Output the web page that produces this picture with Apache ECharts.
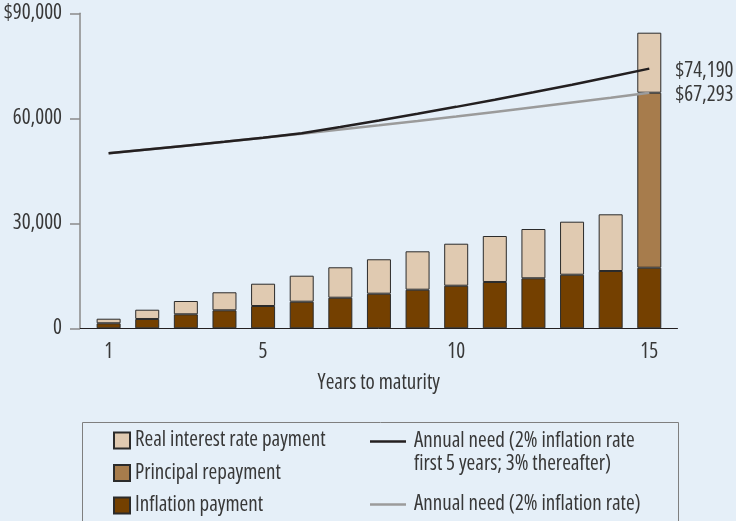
<!DOCTYPE html>
<html>
<head>
<meta charset="UTF-8">
<title>Ladder payments and annual need</title>
<script src="https://cdn.jsdelivr.net/npm/echarts@6/dist/echarts.min.js"></script>
</head>
<body style="margin:0; background:#e5eff8">
<div id="main" style="width:736px; height:521px"></div>
<script type="text/javascript">
var years = ['1', '2', '3', '4', '5', '6', '7', '8', '9', '10', '11', '12', '13', '14', '15'];
var inflationPay = [1430, 2660, 4000, 5140, 6370, 7600, 8740, 9890, 11030, 12170, 13230, 14290, 15310, 16370, 17310];
var principalPay = ['-', '-', '-', '-', '-', '-', '-', '-', '-', '-', '-', '-', '-', '-', 50000];
var realInterestPay = [1310, 2650, 3800, 5150, 6370, 7430, 8690, 9830, 10970, 12000, 13140, 14080, 15150, 16200, 17150];
var needFlat = [50000, 51070, 52170, 53290, 54430, 55600, 56790, 58010, 59250, 60520, 61820, 63150, 64500, 65880, 67293];
var needMixed = [50000, 51070, 52170, 53290, 54430, 55700, 57500, 59360, 61280, 63270, 65310, 67430, 69610, 71860, 74190];
var xLabelYears = ['1', '5', '10', '15'];

// condensed face of Open Sans stands in for the narrow Helvetica of the original
var FONT = "'Open Sans'";
var STRETCH = 'condensed';
var WEIGHT = 'normal';
var TEXT = '#383838';

function txt(size, extra) {
    return Object.assign({fontSize: size, fontFamily: FONT, fontStyle: STRETCH, fontWeight: WEIGHT, color: TEXT}, extra || {});
}

function endLabel() {
    return Object.assign(txt(21), {
        show: true, distance: 26, offset: [0, 2],
        formatter: function (p) { return '$' + p.value.toLocaleString('en-US'); }
    });
}

var myChart = echarts.init(document.getElementById('main'));

myChart.setOption({
    animation: false,
    backgroundColor: '#e5eff8',
    textStyle: {fontFamily: FONT, fontStyle: STRETCH, fontWeight: WEIGHT},
    grid: [
        {left: 89.3, right: 67.4, top: 13.3, bottom: 192.7, outerBoundsMode: 'none'},
        {left: 80, right: 58.5, top: 13.3, bottom: 192.7, outerBoundsMode: 'none'}
    ],
    xAxis: [
        {
            type: 'category',
            gridIndex: 0,
            data: years,
            axisLine: {show: false},
            axisTick: {show: false},
            axisLabel: Object.assign(txt(21), {
                margin: 13,
                interval: function (i, v) { return xLabelYears.indexOf(v) >= 0; }
            })
        },
        {
            // plain baseline spanning the full plot frame
            type: 'value',
            gridIndex: 1,
            min: 0,
            max: 1,
            name: 'Years to maturity',
            nameLocation: 'middle',
            nameGap: 44,
            nameTextStyle: txt(21),
            axisLine: {lineStyle: {color: '#231f20', width: 1}},
            axisTick: {show: false},
            axisLabel: {show: false},
            splitLine: {show: false}
        }
    ],
    yAxis: [
        {
            type: 'value',
            gridIndex: 0,
            offset: 9.3,
            min: 0,
            max: 90000,
            interval: 30000,
            axisLine: {show: true, lineStyle: {color: '#8a8a8a', width: 1.5}},
            axisTick: {show: true, length: 10, lineStyle: {color: '#8a8a8a', width: 1.5}},
            splitLine: {show: false},
            axisLabel: Object.assign(txt(21), {
                margin: 18,
                formatter: function (v) {
                    var s = v.toLocaleString('en-US');
                    return v === 90000 ? '$' + s : s;
                }
            })
        },
        {type: 'value', gridIndex: 1, min: 0, max: 1, show: false}
    ],
    legend: [
        {
            orient: 'vertical',
            left: 113,
            top: 430,
            padding: 0,
            itemWidth: 16,
            itemHeight: 16,
            itemGap: 11.5,
            icon: 'rect',
            textStyle: txt(21, {lineHeight: 20}),
            data: ['Real interest rate payment', 'Principal repayment', 'Inflation payment']
        },
        {
            orient: 'vertical',
            left: 370,
            top: 407,
            padding: 0,
            itemWidth: 36,
            itemHeight: 2.5,
            itemGap: 18,
            icon: 'rect',
            textStyle: txt(21, {lineHeight: 20, padding: [0, 0, 0, 3]}),
            // leading blank line keeps the icon level with the first text line
            formatter: function (name) { return name.indexOf('\n') >= 0 ? '\n' + name : name; },
            data: [
                {name: 'Annual need (2% inflation rate\nfirst 5 years; 3% thereafter)', textStyle: {lineHeight: 23}},
                'Annual need (2% inflation rate)'
            ]
        }
    ],
    graphic: [{
        type: 'rect',
        silent: true,
        shape: {x: 82.5, y: 422.5, width: 596, height: 120},
        style: {fill: null, stroke: '#7f7f7f', lineWidth: 1}
    }],
    series: [
        {
            name: 'Inflation payment',
            type: 'bar',
            stack: 'pay',
            barWidth: 24,
            itemStyle: {color: '#744000', borderColor: '#2b2b2b', borderWidth: 1},
            data: inflationPay
        },
        {
            name: 'Principal repayment',
            type: 'bar',
            stack: 'pay',
            barWidth: 24,
            itemStyle: {color: '#a77c4c', borderColor: '#2b2b2b', borderWidth: 1},
            data: principalPay
        },
        {
            name: 'Real interest rate payment',
            type: 'bar',
            stack: 'pay',
            barWidth: 24,
            itemStyle: {color: '#e0cab1', borderColor: '#2b2b2b', borderWidth: 1},
            data: realInterestPay
        },
        {
            name: 'Annual need (2% inflation rate)',
            type: 'line',
            symbol: 'none',
            lineStyle: {color: '#9b9b9b', width: 2.5},
            itemStyle: {color: '#9b9b9b'},
            endLabel: endLabel(),
            data: needFlat
        },
        {
            name: 'Annual need (2% inflation rate\nfirst 5 years; 3% thereafter)',
            type: 'line',
            symbol: 'none',
            lineStyle: {color: '#231f20', width: 2.5},
            itemStyle: {color: '#231f20'},
            endLabel: endLabel(),
            data: needMixed
        }
    ]
});
</script>
</body>
</html>
